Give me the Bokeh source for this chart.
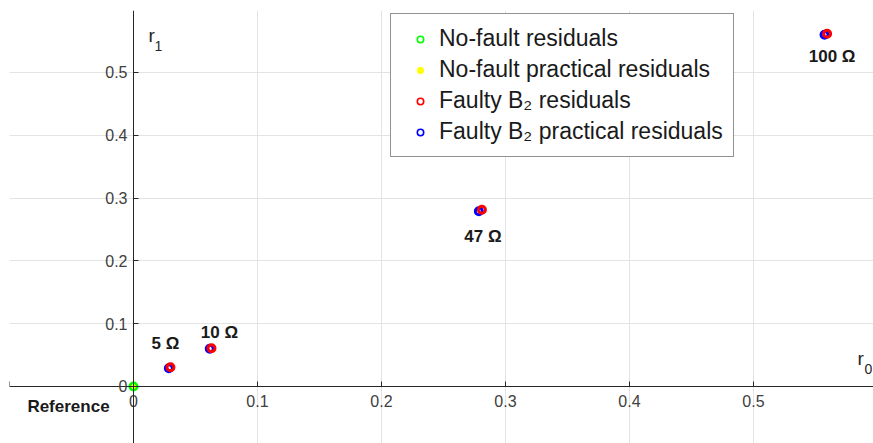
from bokeh.plotting import figure
from bokeh.models import ColumnDataSource, Legend, LegendItem, FixedTicker, Label
from bokeh.core.properties import value
from bokeh.embed import file_html
from bokeh.resources import INLINE

# ---------------- data ----------------
nofault_r0 = [0.0]
nofault_r1 = [0.0]
nofault_prac_r0 = [0.0]
nofault_prac_r1 = [0.0]
faulty_r0 = [0.0298, 0.0629, 0.2810, 0.5594]
faulty_r1 = [0.0307, 0.0610, 0.2813, 0.5616]
faulty_prac_r0 = [0.0285, 0.0615, 0.2785, 0.5573]
faulty_prac_r1 = [0.0290, 0.0600, 0.2790, 0.5600]
fault_labels = ["5 Ω", "10 Ω", "47 Ω", "100 Ω"]
reference_label = "Reference"
tick_values = [-0.1, 0.0, 0.1, 0.2, 0.3, 0.4, 0.5, 0.6]
tick_labels = ["", "0", "0.1", "0.2", "0.3", "0.4", "0.5", ""]
legend_labels = ["No-fault residuals", "No-fault practical residuals",
                 "Faulty B\u2082 residuals", "Faulty B\u2082 practical residuals"]

# ---------------- layout / style ----------------
label_dx = [-5, 8, 1, 5]
label_dy = [-24, -16, 27, 23]
FONT = "Liberation Sans"

p = figure(width=873, height=443, x_range=(-0.1, 0.5968), y_range=(-0.0908, 0.5987),
           output_backend="svg", toolbar_location=None,
           min_border_left=9, min_border_top=10, min_border_right=0, min_border_bottom=0)
p.outline_line_color = None
p.background_fill_color = "white"

overrides = dict(zip(tick_values, tick_labels))
for ax in (p.xaxis[0], p.yaxis[0]):
    ax.fixed_location = 0
    ax.ticker = FixedTicker(ticks=tick_values)
    ax.major_label_overrides = overrides
    ax.axis_line_color = "#262626"
    ax.major_tick_line_color = "#262626"
    ax.major_tick_in = 5
    ax.major_tick_out = 0
    ax.minor_tick_line_color = None
    ax.major_label_text_font = FONT
    ax.major_label_text_font_size = "16px"
    ax.major_label_text_color = "#404040"
p.xaxis.major_label_standoff = 9
p.yaxis.major_label_standoff = 6

p.xgrid.ticker = FixedTicker(ticks=tick_values)
p.ygrid.ticker = FixedTicker(ticks=tick_values)
for g in (p.xgrid[0], p.ygrid[0]):
    g.grid_line_color = "#e3e3e3"
    g.grid_line_width = 1

# ---------------- glyphs ----------------
p.scatter(nofault_r0, nofault_r1, marker="circle", size=7, fill_color=None,
          line_color="#00ff00", line_width=3)
p.scatter(nofault_prac_r0, nofault_prac_r1, marker="circle", size=4,
          fill_color="#ffff00", line_color="#ffff00", line_width=1)
p.scatter(faulty_prac_r0, faulty_prac_r1, marker="circle", size=7, fill_color=None,
          line_color="#0000ff", line_width=3)
p.scatter(faulty_r0, faulty_r1, marker="circle", size=7, fill_color=None,
          line_color="#ff0000", line_width=3)

# legend-only renderers (thinner markers, as in the reference legend); hidden in the plot
lg_green = p.scatter(nofault_r0, nofault_r1, marker="circle", fill_color=None,
                     line_color="#00ff00", line_width=1.6, visible=False)
lg_yellow = p.scatter(nofault_prac_r0, nofault_prac_r1, marker="circle", fill_color="#ffff00",
                      line_color="#ffff00", line_width=1, visible=False)
lg_red = p.scatter(faulty_r0, faulty_r1, marker="circle", fill_color=None,
                   line_color="#ff0000", line_width=1.6, visible=False)
lg_blue = p.scatter(faulty_prac_r0, faulty_prac_r1, marker="circle", fill_color=None,
                    line_color="#0000ff", line_width=1.6, visible=False)

lab_src = ColumnDataSource(dict(x=faulty_r0, y=faulty_r1, text=fault_labels,
                                dx=label_dx, dy=label_dy))
p.text(x="x", y="y", text="text", x_offset="dx", y_offset="dy", source=lab_src,
       text_font=value(FONT), text_font_size="17px", text_font_style="bold",
       text_align="center", text_baseline="middle", text_color="#1a1a1a")
p.text(x=nofault_r0, y=nofault_r1, text=[reference_label], x_offset=-65, y_offset=20,
       text_font=value(FONT), text_font_size="17px", text_font_style="bold",
       text_align="center", text_baseline="middle", text_color="#1a1a1a")

# axis names r_1 and r_0
for txt, x, y, sz in [("r", 139, 408, "19px"), ("1", 145, 398, "14px"),
                      ("r", 848, 85, "19px"), ("0", 855, 75, "14px")]:
    p.add_layout(Label(x=x, y=y, x_units="screen", y_units="screen", text=txt,
                       text_font=FONT, text_font_size=sz, text_color="#262626",
                       text_baseline="alphabetic"))

# ---------------- legend ----------------
legend = Legend(items=[LegendItem(label=legend_labels[0], renderers=[lg_green]),
                       LegendItem(label=legend_labels[1], renderers=[lg_yellow]),
                       LegendItem(label=legend_labels[2], renderers=[lg_red]),
                       LegendItem(label=legend_labels[3], renderers=[lg_blue])],
                location=(381, 286))
legend.label_text_font = FONT
legend.label_text_font_size = "23px"
legend.label_text_color = "#1a1a1a"
legend.label_height = 29
legend.glyph_height = 16
legend.glyph_width = 38
legend.label_standoff = 0
legend.padding = 10
legend.spacing = 2
legend.margin = 0
legend.border_line_color = "#262626"
legend.border_line_width = 1
legend.background_fill_color = "white"
legend.background_fill_alpha = 1
p.add_layout(legend)

open("out.html", "w").write(file_html(p, INLINE))
